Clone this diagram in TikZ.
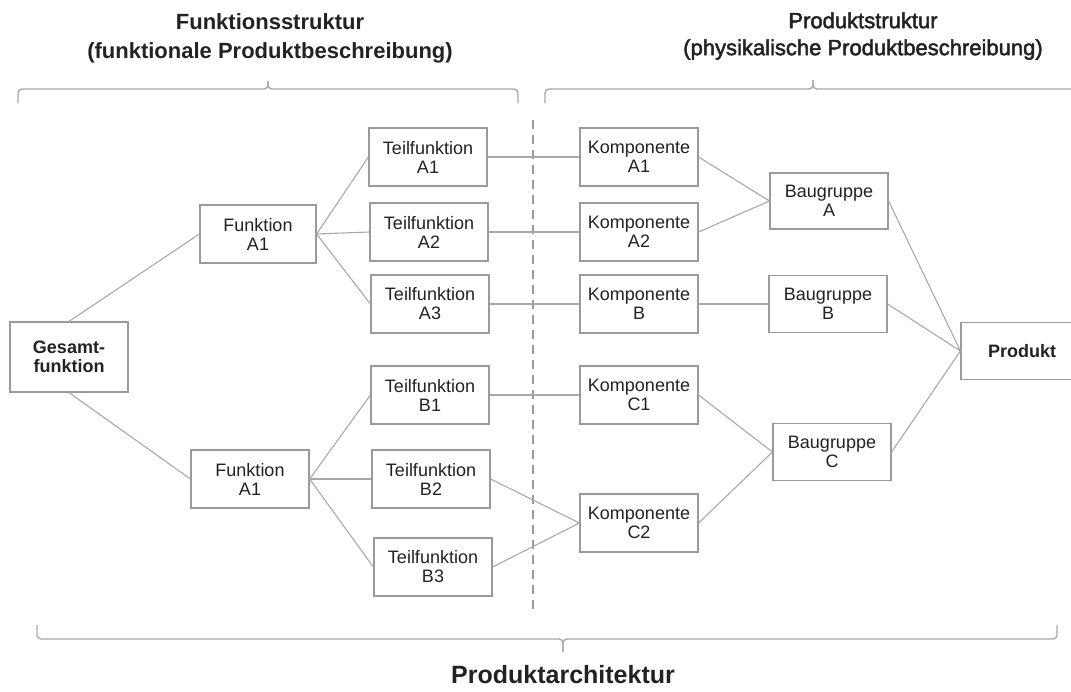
\documentclass[tikz,border=0pt]{standalone}
\usepackage{fontspec}
\setmainfont{Liberation Sans}
\newfontfamily\headfont[FakeBold=2.2]{Liberation Sans}
\definecolor{boxgray}{HTML}{9A9A9A}
\definecolor{linegray}{HTML}{A8A8A8}
\definecolor{txt}{HTML}{222222}
\tikzset{
  part/.style={draw=boxgray, line width=1.2pt, fill=white, text=txt,
    minimum width=118pt, minimum height=58pt, inner sep=2pt, align=center,
    font=\fontsize{18}{19}\selectfont},
  mainpart/.style={part, font=\fontsize{18}{19}\selectfont\bfseries},
  link/.style={draw=linegray, line width=1.1pt},
  clamp/.style={draw=linegray, line width=1.4pt, rounded corners=4pt},
  head/.style={align=center, text=txt, font=\fontsize{22}{28}\selectfont}
}
\begin{document}
\begin{tikzpicture}[x=1pt,y=-1pt]
\useasboundingbox (0,0) rectangle (1071,691);
% headers and braces
\node[head, font=\fontsize{22}{29}\selectfont\bfseries] (fhead) at (270,38) {Funktionsstruktur\\(funktionale Produktbeschreibung)};
\node[head, font=\fontsize{22}{27}\headfont] (phead) at (863,36) {Produktstruktur\\(physikalische Produktbeschreibung)};
\draw[clamp] (18,103) -- (18,89) -- (268,89) -- (268,81);
\draw[clamp] (268,81) -- (268,89) -- (518,89) -- (518,103);
\draw[clamp] (545,103) -- (545,89) -- (813,89) -- (813,80);
\draw[clamp] (813,80) -- (813,89) -- (1080,89) -- (1080,103);
\draw[boxgray, line width=1.4pt, dash pattern=on 9pt off 6pt] (533,120) -- (533,612);
% functions
\node[mainpart, minimum height=70pt] (ges) at (69,357) {Gesamt-\\funktion};
\node[part, minimum width=116pt] (fa) at (258,234) {Funktion\\A1};
\node[part, minimum width=118pt] (fb) at (250,479) {Funktion\\A1};
\node[part] (ta1) at (428,157) {Teilfunktion\\A1};
\node[part] (ta2) at (429,232) {Teilfunktion\\A2};
\node[part] (ta3) at (430,304) {Teilfunktion\\A3};
\node[part] (tb1) at (430,395) {Teilfunktion\\B1};
\node[part] (tb2) at (431,479) {Teilfunktion\\B2};
\node[part] (tb3) at (433,567) {Teilfunktion\\B3};
% components
\node[part] (ka1) at (639,157) {Komponente\\A1};
\node[part] (ka2) at (639,232) {Komponente\\A2};
\node[part] (kb) at (639,304) {Komponente\\B};
\node[part] (kc1) at (639,395) {Komponente\\C1};
\node[part] (kc2) at (639,523) {Komponente\\C2};
\node[part, minimum height=56pt] (ba) at (829,201) {Baugruppe\\A};
\node[part, minimum height=57pt] (bb) at (828,304) {Baugruppe\\B};
\node[part, minimum height=57pt] (bc) at (832,452) {Baugruppe\\C};
\node[mainpart, minimum width=122pt, minimum height=57pt] (prod) at (1022,351) {Produkt};
% links
\draw[link] (ges.north) -- (fa.west);
\draw[link] (ges.south) -- (fb.west);
\draw[link] (fa.east) -- (ta1.west);
\draw[link] (fa.east) -- (ta2.west);
\draw[link] (fa.east) -- (ta3.west);
\draw[link] (fb.east) -- (tb1.west);
\draw[link] (fb.east) -- (tb2.west);
\draw[link] (fb.east) -- (tb3.west);
\draw[link] (ta1) -- (ka1);
\draw[link] (ta2) -- (ka2);
\draw[link] (ta3) -- (kb);
\draw[link] (tb1) -- (kc1);
\draw[link] (tb2.east) -- (kc2.west);
\draw[link] (tb3.east) -- (kc2.west);
\draw[link] (ka1.east) -- (ba.west);
\draw[link] (ka2.east) -- (ba.west);
\draw[link] (kb) -- (bb);
\draw[link] (kc1.east) -- (bc.west);
\draw[link] (kc2.east) -- (bc.west);
\draw[link] (ba.east) -- (prod.west);
\draw[link] (bb.east) -- (prod.west);
\draw[link] (bc.east) -- (prod.west);
% architecture
\draw[clamp] (37,625) -- (37,639) -- (563,639) -- (563,652);
\draw[clamp] (563,652) -- (563,639) -- (1057,639) -- (1057,625);
\node[text=txt, font=\fontsize{25}{28}\selectfont\bfseries] (arch) at (563,675) {Produktarchitektur};
\end{tikzpicture}
\end{document}
